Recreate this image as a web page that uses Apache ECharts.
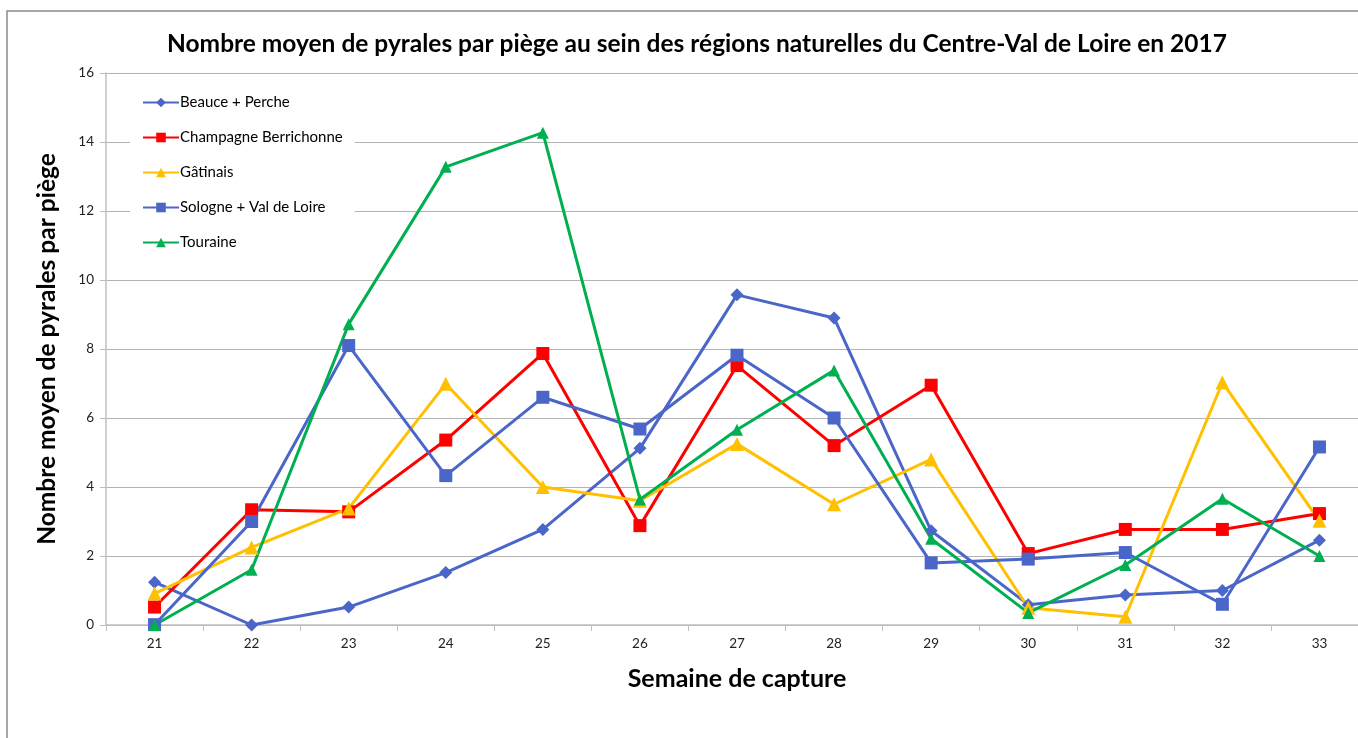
<!DOCTYPE html>
<html>
<head>
<meta charset="utf-8">
<script src="https://cdn.jsdelivr.net/npm/echarts@6/dist/echarts.min.js"></script>
<style>
  html, body { margin: 0; padding: 0; background: #fff; overflow: hidden; }
  #chart { width: 1380px; height: 738px; }
</style>
</head>
<body>
<div id="chart"></div>
<script>
  // semaines de capture
  var weeks = ['21', '22', '23', '24', '25', '26', '27', '28', '29', '30', '31', '32', '33']

  var beauce = [1.24, 0, 0.52, 1.52, 2.77, 5.12, 9.57, 8.9, 2.73, 0.59, 0.87, 1.0, 2.46]
  var champagne = [0.52, 3.34, 3.28, 5.36, 7.87, 2.88, 7.52, 5.2, 6.95, 2.07, 2.77, 2.77, 3.23]
  var gatinais = [0.91, 2.25, 3.38, 6.99, 4.0, 3.6, 5.25, 3.5, 4.8, 0.5, 0.24, 7.03, 3.02]
  var sologne = [0.01, 3.0, 8.1, 4.33, 6.6, 5.68, 7.82, 6.0, 1.8, 1.91, 2.1, 0.6, 5.16]
  var touraine = [0, 1.6, 8.72, 13.28, 14.27, 3.64, 5.66, 7.38, 2.5, 0.35, 1.74, 3.66, 2.0]

  var names = ['Beauce + Perche', 'Champagne Berrichonne', 'Gâtinais', 'Sologne + Val de Loire', 'Touraine']
  var font = 'Lato, "Open Sans", sans-serif'

  function makeSeries (name, data, color, symbol, size) {
    return {
      name: name,
      type: 'line',
      data: data,
      symbol: symbol,
      symbolSize: size,
      showSymbol: true,
      color: color,
      lineStyle: { color: color, width: 3 },
      itemStyle: { color: color },
      emphasis: { disabled: true },
      animation: false
    }
  }

  var chart = echarts.init(document.getElementById('chart'))
  chart.setOption({
    backgroundColor: '#fff',
    graphic: [{
      type: 'rect',
      shape: { x: 7, y: 11, width: 1400, height: 800 },
      style: { fill: 'none', stroke: '#8c8c8c', lineWidth: 1.5 },
      silent: true
    }],
    title: {
      text: 'Nombre moyen de pyrales par piège au sein des régions naturelles du Centre-Val de Loire en 2017',
      left: 692,
      textAlign: 'center',
      top: 27,
      textStyle: { fontFamily: font, fontWeight: 'bold', fontSize: 24.5, color: '#000' }
    },
    legend: {
      data: names,
      orient: 'vertical',
      left: 130,
      top: 89,
      itemWidth: 36,
      itemHeight: 12,
      itemGap: 20,
      backgroundColor: '#fff',
      padding: [6, 12, 6, 12],
      textStyle: { fontFamily: font, fontSize: 15, color: '#000', padding: [0, 0, 0, -4] }
    },
    grid: {
      left: 106,
      top: 73,
      width: 1262,
      height: 552,
      containLabel: false
    },
    xAxis: {
      type: 'category',
      data: weeks,
      boundaryGap: true,
      name: 'Semaine de capture',
      nameLocation: 'middle',
      nameGap: 41,
      nameTextStyle: { fontFamily: font, fontWeight: 'bold', fontSize: 25, color: '#000' },
      axisLine: { lineStyle: { color: '#bfbfbf', width: 1.5 } },
      axisTick: { show: true, interval: 0, length: 6, lineStyle: { color: '#bfbfbf' } },
      axisLabel: { fontFamily: font, fontSize: 13.5, color: '#222', margin: 12 }
    },
    yAxis: {
      type: 'value',
      min: 0,
      max: 16,
      interval: 2,
      name: 'Nombre moyen de pyrales par piège',
      nameLocation: 'middle',
      nameGap: 46,
      nameTextStyle: { fontFamily: font, fontWeight: 'bold', fontSize: 24.5, color: '#000' },
      axisLine: { show: true, lineStyle: { color: '#bfbfbf', width: 1.5 } },
      axisTick: { show: true, length: 6, lineStyle: { color: '#bfbfbf' } },
      axisLabel: { fontFamily: font, fontSize: 13.5, color: '#222', margin: 12 },
      splitLine: { lineStyle: { color: '#b3b3b3', width: 1.2 } }
    },
    series: [
      makeSeries(names[0], beauce, '#4a66c8', 'diamond', 13),
      makeSeries(names[1], champagne, '#ff0000', 'rect', 13),
      makeSeries(names[2], gatinais, '#ffc000', 'triangle', 14),
      makeSeries(names[3], sologne, '#4a66c8', 'rect', 13),
      makeSeries(names[4], touraine, '#00b050', 'triangle', 12)
    ]
  })
</script>
</body>
</html>
